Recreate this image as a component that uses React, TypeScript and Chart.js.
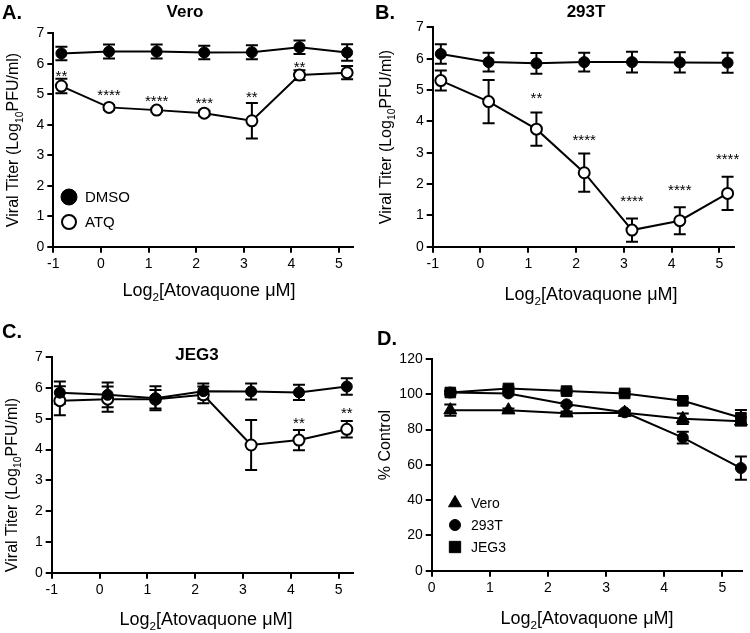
import React, { useEffect, useRef } from 'react';
import { Chart, registerables } from 'chart.js';

Chart.register(...registerables);

const FONT = '"Liberation Sans", Arial, Helvetica, sans-serif';

// ---------- data ----------
const doseX = [-0.83, 0.17, 1.17, 2.17, 3.17, 4.17, 5.17];
const doseTicks = [-1, 0, 1, 2, 3, 4, 5];
const titerTicks = [0, 1, 2, 3, 4, 5, 6, 7];

const veroDmso = [6.34, 6.4, 6.4, 6.37, 6.38, 6.54, 6.37];
const veroDmsoErr = [0.22, 0.23, 0.23, 0.22, 0.23, 0.22, 0.27];
const veroAtq = [5.27, 4.57, 4.48, 4.38, 4.13, 5.63, 5.71];
const veroAtqErr = [0.24, 0.08, 0.06, 0.08, 0.58, 0.16, 0.22];
const veroStars = ['**', '****', '****', '***', '**', '**', ''];
const veroStarY = [5.74, 5.12, 4.92, 4.84, 5.03, 6.04, 0];

const t293Dmso = [6.15, 5.89, 5.85, 5.89, 5.89, 5.88, 5.87];
const t293DmsoErr = [0.31, 0.3, 0.33, 0.3, 0.33, 0.32, 0.32];
const t293Atq = [5.3, 4.63, 3.75, 2.36, 0.53, 0.83, 1.7];
const t293AtqErr = [0.32, 0.69, 0.53, 0.61, 0.37, 0.43, 0.53];
const t293Stars = ['', '', '**', '****', '****', '****', '****'];
const t293StarY = [0, 0, 4.87, 3.53, 1.6, 1.94, 2.93];

const jegDmso = [5.85, 5.78, 5.67, 5.9, 5.89, 5.86, 6.05];
const jegDmsoErr = [0.36, 0.4, 0.39, 0.25, 0.26, 0.25, 0.27];
const jegAtq = [5.59, 5.64, 5.64, 5.78, 4.15, 4.31, 4.66];
const jegAtqErr = [0.47, 0.41, 0.3, 0.27, 0.81, 0.33, 0.27];
const jegStars = ['', '', '', '', '', '**', '**'];
const jegStarY = [0, 0, 0, 0, 0, 4.99, 5.31];

const toxX = [0.32, 1.32, 2.32, 3.32, 4.32, 5.32];
const toxTicks = [0, 1, 2, 3, 4, 5];
const pctTicks = [0, 20, 40, 60, 80, 100, 120];
const toxVero = [91.0, 91.0, 89.3, 89.6, 86.1, 84.7];
const toxVeroErr = [3.2, 1, 1, 1, 3, 2.2];
const tox293 = [101, 100.5, 94.3, 89.8, 75.4, 58.2];
const tox293Err = [1, 1, 1, 1, 3.3, 6.6];
const toxJeg = [101, 103.3, 101.8, 100.5, 96.3, 86.7];
const toxJegErr = [1, 1, 1, 1, 1.5, 4.4];

// ---------- drawing helpers ----------
type Part = [string, boolean];

function partsWidth(ctx: CanvasRenderingContext2D, parts: Part[], size: number) {
  let w = 0;
  for (const [t, sub] of parts) {
    ctx.font = `${sub ? size * 0.65 : size}px ${FONT}`;
    w += ctx.measureText(t).width;
  }
  return w;
}

function drawParts(ctx: CanvasRenderingContext2D, parts: Part[], size: number, startX: number, baseY: number) {
  let x = startX;
  ctx.textAlign = 'left';
  ctx.textBaseline = 'alphabetic';
  for (const [t, sub] of parts) {
    ctx.font = `${sub ? size * 0.65 : size}px ${FONT}`;
    ctx.fillText(t, x, sub ? baseY + size * 0.28 : baseY);
    x += ctx.measureText(t).width;
  }
}

function drawMarker(ctx: CanvasRenderingContext2D, style: string, x: number, y: number, r: number, fill: string) {
  ctx.save();
  ctx.fillStyle = fill;
  ctx.strokeStyle = '#000';
  ctx.lineWidth = fill === '#fff' ? 2 : 1;
  ctx.beginPath();
  if (style === 'triangle') {
    for (let k = 0; k < 3; k++) {
      const a = (k * 2 * Math.PI) / 3;
      const px = x + Math.sin(a) * r;
      const py = y - Math.cos(a) * r;
      if (k === 0) ctx.moveTo(px, py);
      else ctx.lineTo(px, py);
    }
    ctx.closePath();
  } else if (style === 'rect') {
    const s = r * Math.SQRT1_2;
    ctx.rect(x - s, y - s, 2 * s, 2 * s);
  } else {
    ctx.arc(x, y, r, 0, Math.PI * 2);
  }
  ctx.fill();
  ctx.stroke();
  ctx.restore();
}

type Series = { y: number[]; err: number[]; style: string; fill: string; radius: number };
type LegendItem = { style: string; fill: string; x: number; y: number; r: number; text: string; size: number };

type Spec = {
  width: number;
  height: number;
  area: { left: number; top: number; right: number; bottom: number };
  x: number[];
  xMin: number;
  xMax: number;
  xTicks: number[];
  yMin: number;
  yMax: number;
  yTicks: number[];
  series: Series[];
  stars?: { text: string[]; y: number[] };
  letter: { text: string; x: number; y: number };
  title?: { text: string; x: number; y: number };
  yTitle: { parts: Part[]; cx: number; cy: number; size: number };
  xTitle: { parts: Part[]; cx: number; base: number; size: number };
  legend: LegendItem[];
};

const errorBarPlugin = {
  id: 'errorBars',
  beforeDatasetsDraw(chart: any) {
    const ctx = chart.ctx as CanvasRenderingContext2D;
    const ys = chart.scales.y;
    chart.data.datasets.forEach((ds: any, i: number) => {
      if (!ds.errors) return;
      const meta = chart.getDatasetMeta(i);
      ctx.save();
      ctx.strokeStyle = '#000';
      ctx.lineWidth = 2;
      meta.data.forEach((pt: any, j: number) => {
        const e = ds.errors[j];
        if (!e) return;
        const v = ds.data[j].y;
        const y1 = ys.getPixelForValue(v + e);
        const y2 = ys.getPixelForValue(v - e);
        ctx.beginPath();
        ctx.moveTo(pt.x, y1);
        ctx.lineTo(pt.x, y2);
        ctx.moveTo(pt.x - 6, y1);
        ctx.lineTo(pt.x + 6, y1);
        ctx.moveTo(pt.x - 6, y2);
        ctx.lineTo(pt.x + 6, y2);
        ctx.stroke();
      });
      ctx.restore();
    });
  },
};

function makeTextPlugin(spec: Spec) {
  return {
    id: 'figText',
    afterDraw(chart: any) {
      const ctx = chart.ctx as CanvasRenderingContext2D;
      ctx.save();
      ctx.fillStyle = '#000';
      // panel letter
      ctx.font = `bold 20px ${FONT}`;
      ctx.textAlign = 'left';
      ctx.textBaseline = 'alphabetic';
      ctx.fillText(spec.letter.text, spec.letter.x, spec.letter.y);
      // title
      if (spec.title) {
        ctx.font = `bold 17px ${FONT}`;
        ctx.textAlign = 'center';
        ctx.fillText(spec.title.text, spec.title.x, spec.title.y);
      }
      // x title
      const xw = partsWidth(ctx, spec.xTitle.parts, spec.xTitle.size);
      drawParts(ctx, spec.xTitle.parts, spec.xTitle.size, spec.xTitle.cx - xw / 2, spec.xTitle.base);
      // y title (rotated)
      const yw = partsWidth(ctx, spec.yTitle.parts, spec.yTitle.size);
      ctx.save();
      ctx.translate(spec.yTitle.cx, spec.yTitle.cy);
      ctx.rotate(-Math.PI / 2);
      drawParts(ctx, spec.yTitle.parts, spec.yTitle.size, -yw / 2, 0);
      ctx.restore();
      // stars
      if (spec.stars) {
        const xs = chart.scales.x;
        const ys = chart.scales.y;
        ctx.font = `15px ${FONT}`;
        ctx.textAlign = 'center';
        ctx.textBaseline = 'alphabetic';
        spec.stars.text.forEach((t, j) => {
          if (!t) return;
          ctx.fillText(t, xs.getPixelForValue(spec.x[j]), ys.getPixelForValue(spec.stars!.y[j]) + 9);
        });
      }
      // legend
      for (const it of spec.legend) {
        drawMarker(ctx, it.style, it.x, it.y, it.r, it.fill);
        ctx.fillStyle = '#000';
        ctx.font = `${it.size}px ${FONT}`;
        ctx.textAlign = 'left';
        ctx.textBaseline = 'middle';
        ctx.fillText(it.text, it.x + 16, it.y + 1);
      }
      ctx.restore();
    },
  };
}

function axis(min: number, max: number, ticks: number[], horizontal: boolean, size: number) {
  return {
    type: 'linear',
    position: horizontal ? 'bottom' : 'left',
    min,
    max,
    afterBuildTicks: (s: any) => {
      s.ticks = ticks.map((v) => ({ value: v }));
    },
    afterFit: (s: any) => {
      if (horizontal) s.height = size;
      else s.width = size;
    },
    grid: {
      display: true,
      drawOnChartArea: false,
      drawTicks: true,
      tickLength: 6,
      tickWidth: 2,
      tickColor: '#000',
      color: '#000',
      lineWidth: 2,
    },
    border: { display: true, color: '#000', width: 2 },
    ticks: {
      color: '#000',
      font: { family: FONT, size: 14 },
      padding: 3,
      autoSkip: false,
      maxRotation: 0,
      callback: (v: any) => String(v),
    },
  };
}

function buildConfig(spec: Spec): any {
  const datasets = spec.series.map((s) => ({
    data: spec.x.map((x, j) => ({ x, y: s.y[j] })),
    errors: s.err,
    showLine: true,
    borderColor: '#000',
    borderWidth: 2,
    pointStyle: s.style,
    pointRadius: s.radius,
    pointBackgroundColor: s.fill,
    pointBorderColor: '#000',
    pointBorderWidth: s.fill === '#fff' ? 2 : 1,
    tension: 0,
    clip: false,
  }));
  return {
    type: 'scatter',
    data: { datasets },
    options: {
      responsive: false,
      animation: false,
      devicePixelRatio: 1,
      events: [],
      layout: {
        padding: {
          left: 0,
          top: spec.area.top,
          right: spec.width - spec.area.right,
          bottom: 0,
        },
      },
      plugins: {
        legend: { display: false },
        title: { display: false },
        tooltip: { enabled: false },
      },
      scales: {
        x: axis(spec.xMin, spec.xMax, spec.xTicks, true, spec.height - spec.area.bottom),
        y: axis(spec.yMin, spec.yMax, spec.yTicks, false, spec.area.left),
      },
    },
    plugins: [errorBarPlugin, makeTextPlugin(spec)],
  };
}

const yTiterParts: Part[] = [
  ['Viral Titer (Log', false],
  ['10', true],
  ['PFU/ml)', false],
];
const xDoseParts: Part[] = [
  ['Log', false],
  ['2', true],
  ['[Atovaquone \u03bcM]', false],
];

const specA: Spec = {
  width: 375,
  height: 316,
  area: { left: 53.3, top: 33.3, right: 353.3, bottom: 246.7 },
  x: doseX,
  xMin: -1,
  xMax: 5.3,
  xTicks: doseTicks,
  yMin: 0,
  yMax: 7,
  yTicks: titerTicks,
  series: [
    { y: veroDmso, err: veroDmsoErr, style: 'circle', fill: '#000', radius: 5.5 },
    { y: veroAtq, err: veroAtqErr, style: 'circle', fill: '#fff', radius: 5.5 },
  ],
  stars: { text: veroStars, y: veroStarY },
  letter: { text: 'A.', x: 2, y: 19 },
  title: { text: 'Vero', x: 185, y: 17 },
  yTitle: { parts: yTiterParts, cx: 18.4, cy: 140, size: 16 },
  xTitle: { parts: xDoseParts, cx: 209, base: 296, size: 18 },
  legend: [
    { style: 'circle', fill: '#000', x: 69, y: 197, r: 8, text: 'DMSO', size: 15 },
    { style: 'circle', fill: '#fff', x: 69, y: 222, r: 7, text: 'ATQ', size: 15 },
  ],
};

const specB: Spec = {
  width: 375,
  height: 316,
  area: { left: 57.7, top: 27.3, right: 358.8, bottom: 246.7 },
  x: doseX,
  xMin: -1,
  xMax: 5.3,
  xTicks: doseTicks,
  yMin: 0,
  yMax: 7,
  yTicks: titerTicks,
  series: [
    { y: t293Dmso, err: t293DmsoErr, style: 'circle', fill: '#000', radius: 5.5 },
    { y: t293Atq, err: t293AtqErr, style: 'circle', fill: '#fff', radius: 5.5 },
  ],
  stars: { text: t293Stars, y: t293StarY },
  letter: { text: 'B.', x: 0, y: 19 },
  title: { text: '293T', x: 211, y: 17 },
  yTitle: { parts: yTiterParts, cx: 15.5, cy: 137, size: 16 },
  xTitle: { parts: xDoseParts, cx: 216, base: 300, size: 18 },
  legend: [],
};

const specC: Spec = {
  width: 375,
  height: 317,
  area: { left: 51.7, top: 41.3, right: 353, bottom: 256.7 },
  x: doseX,
  xMin: -1,
  xMax: 5.3,
  xTicks: doseTicks,
  yMin: 0,
  yMax: 7,
  yTicks: titerTicks,
  series: [
    { y: jegDmso, err: jegDmsoErr, style: 'circle', fill: '#000', radius: 5.5 },
    { y: jegAtq, err: jegAtqErr, style: 'circle', fill: '#fff', radius: 5.5 },
  ],
  stars: { text: jegStars, y: jegStarY },
  letter: { text: 'C.', x: 2, y: 22 },
  title: { text: 'JEG3', x: 197, y: 44 },
  yTitle: { parts: yTiterParts, cx: 17, cy: 169, size: 16 },
  xTitle: { parts: xDoseParts, cx: 206, base: 309, size: 18 },
  legend: [],
};

const specD: Spec = {
  width: 375,
  height: 317,
  area: { left: 56.7, top: 43, right: 367.7, bottom: 254.7 },
  x: toxX,
  xMin: 0,
  xMax: 5.33,
  xTicks: toxTicks,
  yMin: 0,
  yMax: 120,
  yTicks: pctTicks,
  series: [
    { y: toxVero, err: toxVeroErr, style: 'triangle', fill: '#000', radius: 7.5 },
    { y: tox293, err: tox293Err, style: 'circle', fill: '#000', radius: 5.5 },
    { y: toxJeg, err: toxJegErr, style: 'rect', fill: '#000', radius: 7.5 },
  ],
  letter: { text: 'D.', x: 2, y: 29 },
  yTitle: { parts: [['% Control', false]], cx: 15, cy: 129, size: 16 },
  xTitle: { parts: xDoseParts, cx: 212, base: 308, size: 18 },
  legend: [
    { style: 'triangle', fill: '#000', x: 80, y: 187, r: 7.5, text: 'Vero', size: 14 },
    { style: 'circle', fill: '#000', x: 80, y: 209, r: 5.5, text: '293T', size: 14 },
    { style: 'rect', fill: '#000', x: 80, y: 231, r: 8, text: 'JEG3', size: 14 },
  ],
};

function Panel({ spec, left, top }: { spec: Spec; left: number; top: number }) {
  const ref = useRef<HTMLCanvasElement>(null);
  useEffect(() => {
    const chart = new Chart(ref.current as HTMLCanvasElement, buildConfig(spec));
    return () => chart.destroy();
  }, [spec]);
  return (
    <canvas
      ref={ref}
      width={spec.width}
      height={spec.height}
      style={{ position: 'absolute', left, top, width: spec.width, height: spec.height }}
    />
  );
}

export default function App() {
  return (
    <div style={{ position: 'absolute', left: 0, top: 0, width: 750, height: 633, background: '#fff' }}>
      <Panel spec={specA} left={0} top={0} />
      <Panel spec={specB} left={375} top={0} />
      <Panel spec={specC} left={0} top={316} />
      <Panel spec={specD} left={375} top={316} />
    </div>
  );
}
